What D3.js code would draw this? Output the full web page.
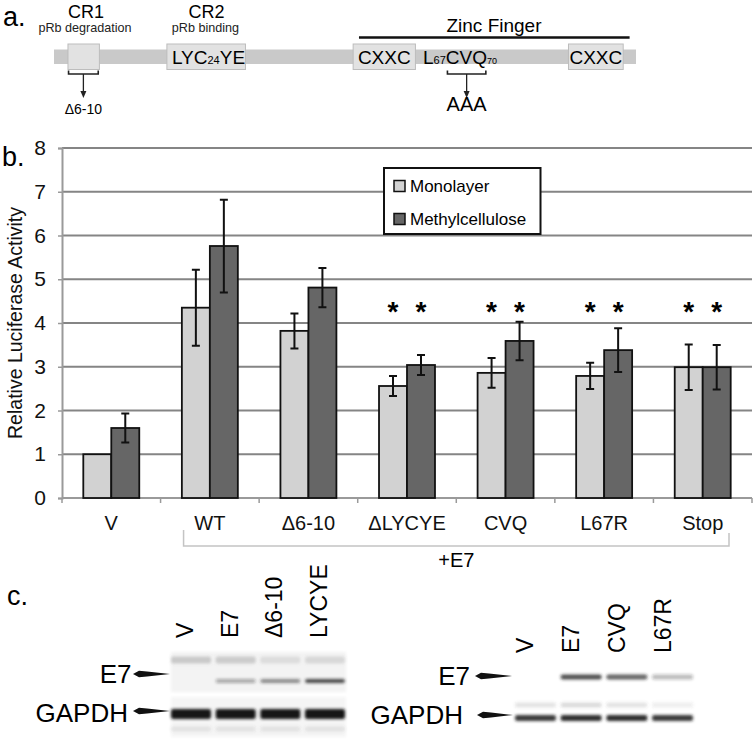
<!DOCTYPE html>
<html>
<head>
<meta charset="utf-8">
<script src="https://cdn.jsdelivr.net/npm/d3@7"></script>
<style>
  body { margin: 0; background: #fff; }
  svg { font-family: "Liberation Sans", Arial, sans-serif; display: block; }
</style>
</head>
<body>
<div id="fig"></div>
<script>
// ---- panel a: E7 schematic (positions in schematic units 0-100) ----
const boxStart = [2.4, 19.4, 51.4, 88.4];
const boxEnd   = [7.8, 32.9, 62.1, 97.8];
const regionNames = ["CR1", "CR2"];
const regionSubs  = ["pRb degradation", "pRb binding"];
const regionPos   = [5.5, 26.2];
const zincStart = 52.4, zincEnd = 98.9, zincMid = 75.6;
const mutStart  = [2.5, 67.6];
const mutEnd    = [7.6, 74.2];
const mutLabels = ["\u03946-10", "AAA"];

// ---- panel b: luciferase bar chart ----
const groups = ["V", "WT", "\u03946-10", "\u0394LYCYE", "CVQ", "L67R", "Stop"];
const seriesNames = ["Monolayer", "Methylcellulose"];
const monolayer    = [1.0, 4.35, 3.82, 2.56, 2.86, 2.79, 2.99];
const monolayerErr = [0, 0.87, 0.40, 0.23, 0.34, 0.30, 0.52];
const methyl       = [1.6, 5.76, 4.81, 3.04, 3.59, 3.38, 2.99];
const methylErr    = [0.33, 1.06, 0.45, 0.23, 0.44, 0.50, 0.51];
const starred      = [false, false, false, true, true, true, true];
const yTicks = [0, 1, 2, 3, 4, 5, 6, 7, 8];

// ---- panel c: western blots (band intensity 0-1) ----
const lanesLeft  = ["V", "E7", "\u03946-10", "LYCYE"];
const upperLeft  = [0.35, 0.32, 0.18, 0.22];
const e7Left     = [0.0, 0.35, 0.5, 0.8];
const gapdhLeft  = [1.0, 1.0, 1.0, 1.0];
const lanesRight = ["V", "E7", "CVQ", "L67R"];
const e7Right    = [0.0, 0.8, 0.7, 0.3];
const gapdhRight = [0.85, 0.9, 0.9, 0.85];
const gapdhUpperRight = [0.15, 0.2, 0.15, 0.1];

const W = 755, H = 742;
const svg = d3.select("#fig").append("svg")
  .attr("width", W).attr("height", H);
svg.append("rect").attr("width", W).attr("height", H).attr("fill", "#fff");

const defs = svg.append("defs");
defs.append("filter").attr("id", "blur").attr("x", "-20%").attr("y", "-100%")
  .attr("width", "140%").attr("height", "300%")
  .append("feGaussianBlur").attr("stdDeviation", 1.4);

// ===================== panel a =====================
const a = svg.append("g");
const s = d3.scaleLinear().domain([0, 100]).range([54, 636]);

a.append("text").attr("x", 3).attr("y", 26).attr("font-size", 27).text("a.");

a.append("rect").attr("x", s(0)).attr("y", 49.5)
  .attr("width", s(100) - s(0)).attr("height", 14.5).attr("fill", "#c9c9c9");

a.selectAll(".dbox").data(boxStart).join("rect")
  .attr("x", (d) => s(d)).attr("y", 44)
  .attr("width", (d, i) => s(boxEnd[i]) - s(d)).attr("height", 25.5)
  .attr("fill", "#e2e2e2").attr("stroke", "#bdbdbd").attr("stroke-width", 1);

// box texts
const lyc = a.append("text").attr("x", s(boxStart[1]) + 5).attr("y", 64).attr("font-size", 19);
lyc.append("tspan").text("LYC");
lyc.append("tspan").attr("font-size", 11).text("24");
lyc.append("tspan").text("YE");
[2, 3].forEach((i) => {
  a.append("text").attr("x", (s(boxStart[i]) + s(boxEnd[i])) / 2).attr("y", 64)
    .attr("text-anchor", "middle").attr("font-size", 19).text("CXXC");
});
const cvq = a.append("text").attr("x", s(63.4)).attr("y", 64).attr("font-size", 19);
cvq.append("tspan").text("L");
cvq.append("tspan").attr("font-size", 11).text("67");
cvq.append("tspan").text("CVQ");
cvq.append("tspan").attr("font-size", 9).text("70");

// region headings
a.selectAll(".rname").data(regionNames).join("text")
  .attr("x", (d, i) => s(regionPos[i])).attr("y", 18)
  .attr("text-anchor", "middle").attr("font-size", 18).text((d) => d);
a.selectAll(".rsub").data(regionSubs).join("text")
  .attr("x", (d, i) => s(regionPos[i]) - 1).attr("y", 31.5)
  .attr("text-anchor", "middle").attr("font-size", 12.6).attr("fill", "#222").text((d) => d);

// zinc finger
a.append("line").attr("x1", s(zincStart)).attr("x2", s(zincEnd))
  .attr("y1", 37.5).attr("y2", 37.5).attr("stroke", "#111").attr("stroke-width", 2.5);
a.append("text").attr("x", s(zincMid)).attr("y", 31.5).attr("text-anchor", "middle")
  .attr("font-size", 19).text("Zinc Finger");

// mutation brackets + arrows
mutStart.forEach((m, i) => {
  const x0 = s(m), x1 = s(mutEnd[i]), xm = (x0 + x1) / 2;
  a.append("path").attr("d", `M${x0},70.5V74H${x1}V70.5`)
    .attr("fill", "none").attr("stroke", "#222").attr("stroke-width", 1.6);
  a.append("line").attr("x1", xm).attr("x2", xm).attr("y1", 74).attr("y2", 93)
    .attr("stroke", "#222").attr("stroke-width", 1.3);
  a.append("path").attr("d", `M${xm - 3},91L${xm},98L${xm + 3},91Z`).attr("fill", "#222");
});
a.append("text").attr("x", s(5.05)).attr("y", 114).attr("text-anchor", "middle")
  .attr("font-size", 14).text(mutLabels[0]);
a.append("text").attr("x", s(70.9)).attr("y", 111).attr("text-anchor", "middle")
  .attr("font-size", 20).text(mutLabels[1]);

// ===================== panel b =====================
const b = svg.append("g");
const x = d3.scaleBand().domain(groups).range([62, 752]);
const xs = d3.scaleBand().domain(seriesNames).range([21.3, x.bandwidth() - 21.3]);
const y = d3.scaleLinear().domain([0, 8]).range([498, 148]);

b.append("text").attr("x", 2).attr("y", 166).attr("font-size", 27).text("b.");

// gridlines
b.selectAll(".grid").data(yTicks.filter((t) => t > 0)).join("line")
  .attr("x1", 62).attr("x2", 752)
  .attr("y1", (d) => y(d)).attr("y2", (d) => y(d))
  .attr("stroke", "#858585").attr("stroke-width", 2);

// y axis
const yAxis = b.append("g").attr("transform", "translate(62,0)")
  .call(d3.axisLeft(y).tickValues(yTicks).tickSize(4).tickPadding(12));
yAxis.select(".domain").attr("stroke", "#9a9a9a").attr("stroke-width", 2);
yAxis.selectAll(".tick line").attr("stroke", "#9a9a9a").attr("stroke-width", 1.5);
yAxis.selectAll(".tick text").attr("font-size", 21).attr("fill", "#111")
  .attr("font-family", "Liberation Sans, Arial, sans-serif");

b.append("text")
  .attr("transform", "translate(22,323) rotate(-90)")
  .attr("text-anchor", "middle").attr("font-size", 19.5).attr("fill", "#111")
  .text("Relative Luciferase Activity");

// x axis baseline + ticks at band boundaries
b.append("line").attr("x1", 62).attr("x2", 752).attr("y1", y(0)).attr("y2", y(0))
  .attr("stroke", "#9a9a9a").attr("stroke-width", 2);
b.selectAll(".xtick").data(d3.range(groups.length + 1)).join("line")
  .attr("x1", (i) => 62 + i * x.step()).attr("x2", (i) => 62 + i * x.step())
  .attr("y1", y(0)).attr("y2", y(0) + 5)
  .attr("stroke", "#9a9a9a").attr("stroke-width", 1.5);

// bars
const rows = groups.map((g, i) => ({ g, i, vals: [monolayer[i], methyl[i]], errs: [monolayerErr[i], methylErr[i]] }));
const fills = ["#d2d2d2", "#666666"];
const gg = b.selectAll(".grp").data(rows).join("g")
  .attr("transform", (d) => `translate(${x(d.g)},0)`);
gg.selectAll("rect").data((d) => d.vals.map((v, k) => ({ v, k, e: d.errs[k] }))).join("rect")
  .attr("x", (d) => xs(seriesNames[d.k])).attr("width", xs.bandwidth())
  .attr("y", (d) => y(d.v)).attr("height", (d) => y(0) - y(d.v))
  .attr("fill", (d) => fills[d.k]).attr("stroke", "#111").attr("stroke-width", 1.8);

// error bars
gg.each(function (d) {
  const g = d3.select(this);
  d.vals.forEach((v, k) => {
    const e = d.errs[k];
    if (!e) return;
    const cx = xs(seriesNames[k]) + xs.bandwidth() / 2;
    g.append("path")
      .attr("d", `M${cx - 4},${y(v + e)}H${cx + 4}M${cx},${y(v + e)}V${y(v - e)}M${cx - 4},${y(v - e)}H${cx + 4}`)
      .attr("fill", "none").attr("stroke", "#111").attr("stroke-width", 2);
  });
  if (starred[d.i]) {
    seriesNames.forEach((sn) => {
      g.append("text").attr("x", xs(sn) + xs.bandwidth() / 2).attr("y", 321)
        .attr("text-anchor", "middle").attr("font-size", 28).attr("font-weight", "bold").text("*");
    });
  }
});

// x labels
b.selectAll(".xl").data(groups).join("text")
  .attr("x", (d) => x(d) + x.bandwidth() / 2).attr("y", 530)
  .attr("text-anchor", "middle").attr("font-size", 20).attr("fill", "#111").text((d) => d);

// +E7 bracket
const bx0 = x("WT") + 23, bx1 = x("Stop") + x.bandwidth() - 23;
b.append("path").attr("d", `M${bx0},530V546H${bx1}V533`)
  .attr("fill", "none").attr("stroke", "#c4c4c4").attr("stroke-width", 1.5);
b.append("text").attr("x", (bx0 + bx1) / 2).attr("y", 567).attr("text-anchor", "middle")
  .attr("font-size", 20).text("+E7");

// legend
const lg = b.append("g");
lg.append("rect").attr("x", 384).attr("y", 168).attr("width", 156.5).attr("height", 66)
  .attr("fill", "#fff").attr("stroke", "#111").attr("stroke-width", 2);
seriesNames.forEach((n, k) => {
  lg.append("rect").attr("x", 394).attr("y", 180.5 + k * 33).attr("width", 11).attr("height", 11)
    .attr("fill", fills[k]).attr("stroke", "#111").attr("stroke-width", 1.5);
  lg.append("text").attr("x", 410).attr("y", 192 + k * 33).attr("font-size", 17).text(n);
});

// ===================== panel c =====================
const c = svg.append("g");
c.append("text").attr("x", 7).attr("y", 605).attr("font-size", 27).text("c.");

function arrow(x0, x1, yy) {
  c.append("path")
    .attr("d", `M${x0},${yy}L${x0 + 6},${yy - 3.2}L${x0 + 14},${yy - 2.4}L${x1},${yy}L${x0 + 14},${yy + 2.4}L${x0 + 6},${yy + 3.2}Z`)
    .attr("fill", "#111");
}

function blot(lanes, range, labelBase, labelShift, bands) {
  const lx = d3.scaleBand().domain(lanes).range(range).paddingInner(0.06);
  const g = c.append("g");
  // lane labels
  g.selectAll(".ll").data(lanes).join("text")
    .attr("transform", (d) => `translate(${lx(d) + lx.bandwidth() / 2 + labelShift},${labelBase}) rotate(-90)`)
    .attr("font-size", 23).text((d) => d);
  // bands
  bands.forEach((bd) => {
    g.append("g").attr("filter", "url(#blur)")
      .selectAll("rect").data(bd.vals).join("rect")
      .attr("x", (d, i) => lx(lanes[i]) + 1).attr("width", lx.bandwidth() - 2)
      .attr("y", bd.y - bd.h / 2).attr("height", bd.h)
      .attr("rx", 2)
      .attr("fill", bd.color).attr("opacity", (d) => d);
  });
  return lx;
}

// left blot backgrounds
c.append("rect").attr("x", 171).attr("y", 652).attr("width", 175).attr("height", 40)
  .attr("fill", "#f3f3f3").attr("filter", "url(#blur)");
c.append("rect").attr("x", 171).attr("y", 697).attr("width", 175).attr("height", 40)
  .attr("fill", "#f5f5f5").attr("filter", "url(#blur)");

blot(lanesLeft, [170, 346], 638, 2, [
  { vals: upperLeft, y: 660, h: 7, color: "#777" },
  { vals: e7Left, y: 681, h: 4, color: "#222" },
  { vals: gapdhLeft, y: 714, h: 10, color: "#151515" },
  { vals: gapdhLeft.map(() => 0.12), y: 729, h: 5, color: "#555" }
]);

blot(lanesRight, [514, 694], 653, -2, [
  { vals: e7Right, y: 677, h: 5, color: "#222" },
  { vals: gapdhUpperRight, y: 705, h: 5, color: "#444" },
  { vals: gapdhRight, y: 718, h: 6, color: "#1a1a1a" }
]);

// band labels with arrows
c.append("text").attr("x", 131.5).attr("y", 683).attr("text-anchor", "end").attr("font-size", 26).text("E7");
arrow(133, 170, 674);
c.append("text").attr("x", 128).attr("y", 722).attr("text-anchor", "end").attr("font-size", 26).text("GAPDH");
arrow(133, 170, 711);
c.append("text").attr("x", 470).attr("y", 685).attr("text-anchor", "end").attr("font-size", 26).text("E7");
arrow(475, 512, 676);
c.append("text").attr("x", 463).attr("y", 724).attr("text-anchor", "end").attr("font-size", 26).text("GAPDH");
arrow(477, 513, 715);
</script>
</body>
</html>
